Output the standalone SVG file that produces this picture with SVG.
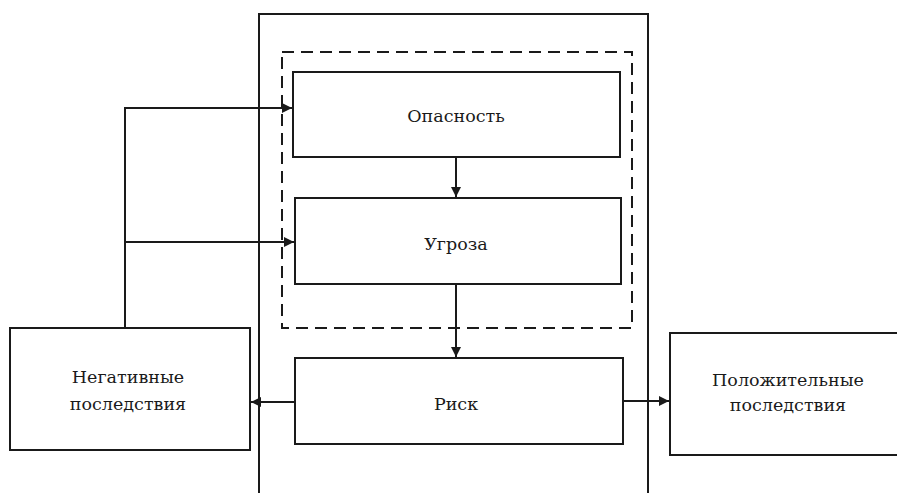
<svg xmlns="http://www.w3.org/2000/svg" width="897" height="493" viewBox="0 0 897 493">
<defs>
<style>
.box{fill:#fff;stroke:#1a1a1a;stroke-width:2}
.line{fill:none;stroke:#1a1a1a;stroke-width:2}
.dash{fill:none;stroke:#1a1a1a;stroke-width:2;stroke-dasharray:12,7}
.t{font-family:"DejaVu Serif","Liberation Serif",serif;font-size:17.5px;fill:#1a1a1a;text-anchor:middle}
</style>
<marker id="arr" viewBox="0 0 10 10" refX="10" refY="5" markerWidth="5" markerHeight="5" orient="auto" markerUnits="strokeWidth">
<path d="M0,0 L10,5 L0,10 z" fill="#1a1a1a"/>
</marker>
</defs>
<rect width="897" height="493" fill="#fff"/>
<g id="outer">
<path class="line" d="M259,494 V14 H648 V494"/>
</g>
<g id="dashed-group">
<rect class="dash" x="282" y="52" width="350" height="276"/>
</g>
<g id="opasnost">
<rect class="box" x="293" y="72" width="327" height="85"/>
<text class="t" x="456" y="122">Опасность</text>
</g>
<g id="ugroza">
<rect class="box" x="295" y="198" width="326" height="86"/>
<text class="t" x="456" y="250">Угроза</text>
</g>
<g id="risk">
<rect class="box" x="295" y="358" width="328" height="86"/>
<text class="t" x="456" y="410">Риск</text>
</g>
<g id="negative">
<rect class="box" x="10" y="328" width="240" height="122"/>
<text class="t" x="128" y="383">Негативные</text>
<text class="t" x="128" y="410">последствия</text>
</g>
<g id="positive">
<rect class="box" x="670" y="333" width="240" height="122"/>
<text class="t" x="788" y="386">Положительные</text>
<text class="t" x="788" y="411">последствия</text>
</g>
<g id="connectors">
<line class="line" x1="456" y1="157" x2="456" y2="197" marker-end="url(#arr)"/>
<line class="line" x1="456" y1="284" x2="456" y2="357" marker-end="url(#arr)"/>
<line class="line" x1="295" y1="402" x2="251" y2="402" marker-end="url(#arr)"/>
<line class="line" x1="623" y1="401" x2="669" y2="401" marker-end="url(#arr)"/>
<polyline class="line" points="125,328 125,108 292,108" marker-end="url(#arr)"/>
<line class="line" x1="125" y1="242" x2="294" y2="242" marker-end="url(#arr)"/>
</g>
</svg>
